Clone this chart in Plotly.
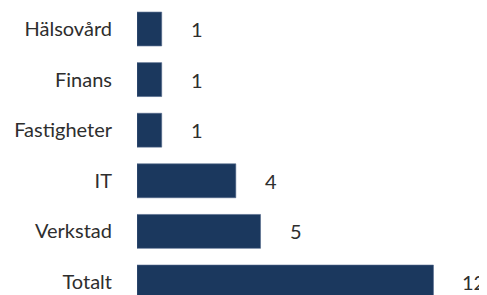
import plotly.graph_objects as go

categories = ["Totalt", "Verkstad", "IT", "Fastigheter", "Finans", "Hälsovård"]
values = [12, 5, 4, 1, 1, 1]

bar_color = "#1b385e"
text_color = "#2e2e2e"
font_family = "Lato, 'Open Sans', sans-serif"

fig = go.Figure()
fig.add_trace(go.Bar(
    y=categories,
    x=values,
    orientation="h",
    marker=dict(color=bar_color, line=dict(color="#50668a", width=0.6)),
    width=0.67,
    hoverinfo="skip",
))

for c, v in zip(categories, values):
    fig.add_annotation(
        x=v, y=c, text=str(v), showarrow=False,
        xanchor="left", yanchor="middle", xshift=27,
        font=dict(family=font_family, size=20, color=text_color),
    )

fig.update_layout(
    width=487, height=295,
    margin=dict(l=129, r=4, t=0, b=0),
    paper_bgcolor="white", plot_bgcolor="white",
    showlegend=False,
    font=dict(family=font_family, size=20, color=text_color),
    xaxis=dict(range=[0, 14.33], visible=False, showgrid=False, zeroline=False,
               automargin=False),
    yaxis=dict(
        type="category",
        range=[-0.415, 5.415],
        automargin=False,
        showgrid=False, zeroline=False, showline=False, ticks="",
        ticklabelstandoff=24,
        tickfont=dict(family=font_family, size=20, color=text_color),
    ),
)

fig.write_html("out.html")
